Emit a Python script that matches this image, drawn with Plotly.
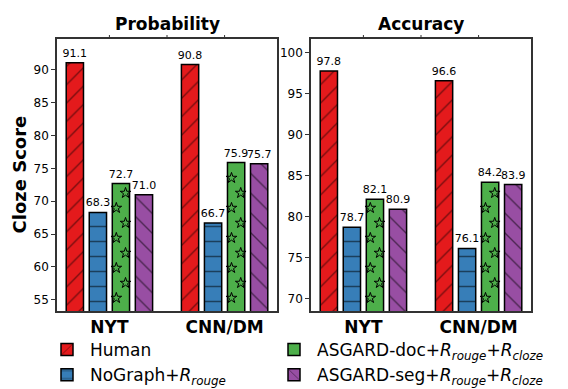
import plotly.graph_objects as go

# data
datasets = ["NYT", "CNN/DM"]
methods  = ["Human",
            "NoGraph+<i>R</i><sub><i>rouge</i></sub>",
            "ASGARD-doc+<i>R</i><sub><i>rouge</i></sub>+<i>R</i><sub><i>cloze</i></sub>",
            "ASGARD-seg+<i>R</i><sub><i>rouge</i></sub>+<i>R</i><sub><i>cloze</i></sub>"]

prob_human = [91.1, 90.8]
prob_nog   = [68.3, 66.7]
prob_doc   = [72.7, 75.9]
prob_seg   = [71.0, 75.7]

acc_human  = [97.8, 96.6]
acc_nog    = [78.7, 76.1]
acc_doc    = [82.1, 84.2]
acc_seg    = [80.9, 83.9]

colors   = ["#e41a1c", "#377eb8", "#4daf4a", "#984ea3"]
patterns = ["/", "-", "", "\\"]
psizes   = [13, 15, 8, 14]
offsets  = [-0.3, -0.1, 0.1, 0.3]
legends  = ["legend", "legend", "legend2", "legend2"]

FONT = "DejaVu Sans"
W, H = 568, 389
PAGE = 8   # the page body margin shifts the figure by 8px


def px(x):
    return (x - PAGE) / W


def py(y):
    return 1 - (y - PAGE) / H


top_px, bot_px = 39, 311
xr = [-0.455, 1.455]
ranges = [[53.3, 94.7], [68.45, 101.7]]

fig = go.Figure()

panels = [
    ("x", "y",  [prob_human, prob_nog, prob_doc, prob_seg]),
    ("x2", "y2", [acc_human, acc_nog, acc_doc, acc_seg]),
]

for p, (xa, ya, series) in enumerate(panels):
    for i, vals in enumerate(series):
        fig.add_trace(go.Bar(
            x=[g + offsets[i] for g in range(len(datasets))],
            y=vals,
            width=0.15,
            xaxis=xa, yaxis=ya,
            name=methods[i],
            legend=legends[i],
            showlegend=(p == 0),
            marker=dict(color=colors[i],
                        line=dict(color="black", width=1.5),
                        pattern=dict(shape=patterns[i], fgcolor="black",
                                     size=psizes[i], solidity=0.1)),
            texttemplate="%{y:.1f}",
            textposition="outside",
            constraintext="none",
            cliponaxis=False,
            textfont=dict(family=FONT, size=11, color="black"),
        ))

    # star hatch on the ASGARD-doc bars (pixel-spaced rows like matplotlib)
    lo, hi = ranges[p]
    upp = (hi - lo) / (bot_px - top_px)   # data units per pixel
    sx, sy = [], []
    for g, v in enumerate(series[2]):
        k = 0
        while True:
            yp = 298 - 15 * k
            yv = hi - (yp - top_px) * upp
            if yv > v - 5 * upp:
                break
            sx.append(g + offsets[2] + (-0.04 if k % 2 == 0 else 0.04))
            sy.append(yv)
            k += 1
    fig.add_trace(go.Scatter(
        x=sx, y=sy, xaxis=xa, yaxis=ya, mode="markers", showlegend=False,
        hoverinfo="skip", cliponaxis=True,
        marker=dict(symbol="star-open", size=8, color="black",
                    line=dict(width=1, color="black")),
    ))

ydom = [py(bot_px), py(top_px)]
xdoms = [[px(57), px(277)], [px(311), px(531)]]

axis_line = dict(showline=True, mirror=True, linecolor="#333333", linewidth=1.5)

for p in range(2):
    sfx = "" if p == 0 else str(p + 1)
    fig.layout["xaxis" + sfx] = dict(
        domain=xdoms[p], range=xr, tickvals=[0, 1], ticktext=datasets,
        ticks="", showgrid=False, zeroline=False, anchor="y" + sfx,
        automargin=False,
        tickfont=dict(family=FONT, size=17, color="black", weight="bold"),
        **axis_line)
    fig.layout["yaxis" + sfx] = dict(
        domain=ydom, range=ranges[p], dtick=5, ticks="outside", ticklen=4,
        tickcolor="#333333", showgrid=False, zeroline=False, anchor="x" + sfx,
        automargin=False,
        tickfont=dict(family=FONT, size=12, color="black"),
        **axis_line)
    # small tick marks above the frame
    for t in [0, 0.5, 1]:
        fig.add_shape(type="line", xref="x" + sfx, yref="paper",
                      x0=t, x1=t, ysizemode="pixel", yanchor=ydom[1],
                      y0=0, y1=4, line=dict(color="#333333", width=1))

fig.add_annotation(text="<b>Probability</b>", x=px(167), y=py(24),
                   xref="paper", yref="paper", showarrow=False,
                   xanchor="center", yanchor="middle",
                   font=dict(family=FONT, size=17, color="black"))
fig.add_annotation(text="<b>Accuracy</b>", x=px(421), y=py(24),
                   xref="paper", yref="paper", showarrow=False,
                   xanchor="center", yanchor="middle",
                   font=dict(family=FONT, size=17, color="black"))
fig.add_annotation(text="<b>Cloze Score</b>", x=px(18.5), y=py(175),
                   xref="paper", yref="paper", showarrow=False, textangle=-90,
                   xanchor="center", yanchor="middle",
                   font=dict(family=FONT, size=18, color="black"))

leg = dict(orientation="v", xanchor="left", yanchor="top",
           font=dict(family=FONT, size=17, color="black"),
           itemwidth=36, tracegroupgap=0, bgcolor="rgba(0,0,0,0)")

fig.update_layout(
    width=W, height=H,
    margin=dict(l=0, r=0, t=0, b=0, autoexpand=False),
    paper_bgcolor="white", plot_bgcolor="white",
    barmode="overlay",
    legend=dict(x=px(44), y=py(332), **leg),
    legend2=dict(x=px(271), y=py(332), **leg),
    font=dict(family=FONT),
)

fig.write_html("out.html")
